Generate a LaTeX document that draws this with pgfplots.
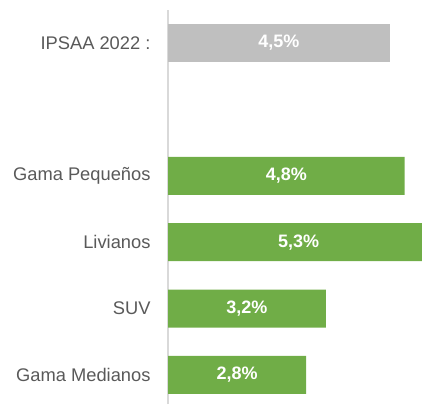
\documentclass[border=0pt]{standalone}
\usepackage{pgfplots}
\pgfplotsset{compat=1.18}
\usepackage{fontspec}
\setmainfont{Liberation Sans}
\definecolor{bargreen}{HTML}{70AD47}
\definecolor{bargray}{HTML}{BFBFBF}
\definecolor{labgray}{HTML}{595959}
\definecolor{axgray}{HTML}{D9D9D9}
\begin{document}
\begin{tikzpicture}
\begin{axis}[
  scale only axis,
  width=254pt, height=394pt,
  xmin=0, xmax=5.152,
  ymin=-0.437, ymax=5.497,
  axis x line=none,
  axis y line*=left,
  y axis line style={draw=axgray, line width=1.6pt},
  ytick={0,1,2,3,5},
  yticklabels={Gama Medianos, SUV, Livianos, Gama Pequeños, IPSAA 2022 :},
  major tick length=0pt,
  yticklabel style={font=\fontsize{18.3}{20}\selectfont, text=labgray, xshift=-14pt},
  xbar, bar width=38pt, bar shift=0pt,
  clip=true,
]
\addplot[fill=bargray, draw=none] coordinates {(4.5,5)};
\addplot[fill=bargreen, draw=none] coordinates {(4.8,3) (5.3,2) (3.2,1) (2.8,0)};
\addplot[draw=none, mark=none, xbar=false, point meta=explicit symbolic,
  nodes near coords,
  every node near coord/.style={anchor=center, text=white, font=\bfseries\fontsize{18}{20}\selectfont}]
  coordinates {(2.25,5) [4,5\%] (2.4,3) [4,8\%] (2.65,2) [5,3\%] (1.6,1) [3,2\%] (1.4,0) [2,8\%]};
\end{axis}
\pgfresetboundingbox
\path (-168pt,0pt) rectangle (254pt,404pt);
\end{tikzpicture}
\end{document}
